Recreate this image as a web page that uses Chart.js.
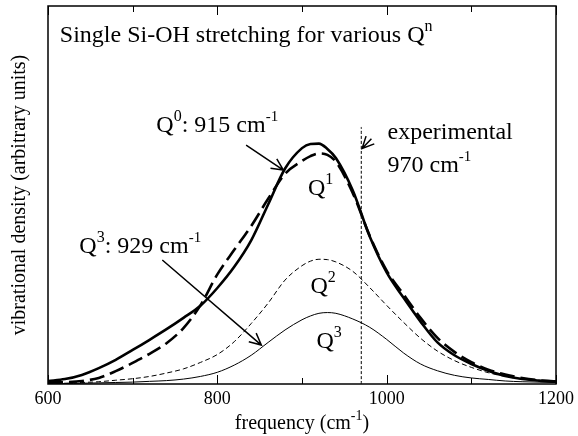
<!DOCTYPE html>
<html>
<head>
<meta charset="utf-8">
<script src="https://cdn.jsdelivr.net/npm/chart.js@4"></script>
<style>
  html, body { margin: 0; padding: 0; background: #fff; }
  #wrap { width: 578px; height: 436px; }
</style>
</head>
<body>
<div id="wrap"><canvas id="chart" width="578" height="436"></canvas></div>
<script>
// Single Si-OH stretching bands
const freqs = [600, 620, 640, 660, 680, 700, 720, 740, 760, 780, 800, 820, 840, 860, 880, 900, 910, 920, 930, 940,
               960, 980, 1000, 1020, 1040, 1060, 1080, 1100, 1120, 1140, 1160, 1180, 1200];
const q0 = [0.008, 0.013, 0.024, 0.042, 0.064, 0.090, 0.117, 0.145, 0.175, 0.207, 0.254, 0.310, 0.380, 0.475, 0.570, 0.624, 0.635, 0.636, 0.622, 0.598,
            0.512, 0.390, 0.295, 0.228, 0.165, 0.110, 0.076, 0.053, 0.035, 0.021, 0.013, 0.009, 0.006];
const q1 = [0.004, 0.005, 0.008, 0.016, 0.034, 0.056, 0.080, 0.108, 0.148, 0.208, 0.290, 0.355, 0.418, 0.490, 0.556, 0.590, 0.603, 0.610, 0.606, 0.588,
            0.505, 0.392, 0.300, 0.237, 0.175, 0.122, 0.085, 0.058, 0.038, 0.025, 0.016, 0.010, 0.007];
const q2 = [0.001, 0.002, 0.004, 0.006, 0.010, 0.014, 0.020, 0.029, 0.040, 0.057, 0.078, 0.112, 0.160, 0.214, 0.275, 0.313, 0.325, 0.330, 0.329, 0.323,
            0.298, 0.255, 0.208, 0.163, 0.121, 0.087, 0.062, 0.044, 0.030, 0.020, 0.013, 0.008, 0.006];
const q3 = [0.001, 0.001, 0.002, 0.003, 0.004, 0.005, 0.007, 0.009, 0.013, 0.020, 0.031, 0.050, 0.076, 0.110, 0.143, 0.170, 0.180, 0.187, 0.189, 0.187,
            0.172, 0.150, 0.118, 0.082, 0.053, 0.035, 0.023, 0.016, 0.012, 0.008, 0.006, 0.005, 0.004];

// experimental band position (dotted marker line)
const expFreq = [970, 970];
const expLevel = [0, 0.68];

const xTicks = [600, 800, 1000, 1200];
const xMinorTicks = [700, 900, 1100];

const SERIF = "'Liberation Serif', 'Times New Roman', serif";

function pts(ys) {
    return freqs.map((f, i) => ({ x: f, y: ys[i] }));
}

// text pieces: [text, size, raise]
function drawRich(ctx, parts, x, y) {
    let cx = x;
    parts.forEach(p => {
        ctx.font = p[1] + 'px ' + SERIF;
        ctx.fillText(p[0], cx, y - p[2]);
        cx += ctx.measureText(p[0]).width;
    });
}

function drawArrow(ctx, x1, y1, x2, y2) {
    const ang = Math.atan2(y2 - y1, x2 - x1);
    const head = 13;
    ctx.beginPath();
    ctx.moveTo(x1, y1);
    ctx.lineTo(x2, y2);
    ctx.moveTo(x2 - head * Math.cos(ang - 0.45), y2 - head * Math.sin(ang - 0.45));
    ctx.lineTo(x2, y2);
    ctx.lineTo(x2 - head * Math.cos(ang + 0.45), y2 - head * Math.sin(ang + 0.45));
    ctx.stroke();
}

// labels in data coordinates (frequency, density)
const labels = [
    { f: 614, v: 0.906, parts: [['Single Si-OH stretching for various Q', 24, 0], ['n', 16, 11]] },
    { f: 728, v: 0.667, parts: [['Q', 24, 0], ['0', 16, 11], [': 915 cm', 24, 0], ['-1', 15, 11]] },
    { f: 1001, v: 0.648, parts: [['experimental', 24, 0]] },
    { f: 1001, v: 0.560, parts: [['970 cm', 24, 0], ['-1', 15, 11]] },
    { f: 907, v: 0.500, parts: [['Q', 24, 0], ['1', 16, 11]] },
    { f: 910, v: 0.241, parts: [['Q', 24, 0], ['2', 16, 11]] },
    { f: 917, v: 0.095, parts: [['Q', 24, 0], ['3', 16, 11]] },
    { f: 637, v: 0.347, parts: [['Q', 24, 0], ['3', 16, 11], [': 929 cm', 24, 0], ['-1', 15, 11]] }
];

const arrows = [
    [834, 0.632, 878, 0.566],
    [982, 0.649, 971, 0.623],
    [735, 0.328, 852, 0.103]
];

const decorPlugin = {
    id: 'decor',
    afterDatasetsDraw(chart) {
        const { ctx, chartArea: a, scales: { x, y } } = chart;
        ctx.save();
        ctx.strokeStyle = '#000';
        ctx.fillStyle = '#000';

        // frame
        ctx.lineWidth = 1.5;
        ctx.strokeRect(a.left, a.top, a.right - a.left, a.bottom - a.top);

        // inward ticks top and bottom
        ctx.lineWidth = 1;
        xTicks.concat(xMinorTicks).forEach(t => {
            const px = Math.round(x.getPixelForValue(t)) + 0.5;
            const len = xTicks.includes(t) ? 9 : 6;
            ctx.beginPath();
            ctx.moveTo(px, a.bottom);
            ctx.lineTo(px, a.bottom - len);
            ctx.moveTo(px, a.top);
            ctx.lineTo(px, a.top + len);
            ctx.stroke();
        });

        // annotations
        ctx.textBaseline = 'alphabetic';
        ctx.textAlign = 'left';
        labels.forEach(l => drawRich(ctx, l.parts, x.getPixelForValue(l.f), y.getPixelForValue(l.v)));

        ctx.lineWidth = 1.5;
        arrows.forEach(r => drawArrow(ctx, x.getPixelForValue(r[0]), y.getPixelForValue(r[1]),
                                      x.getPixelForValue(r[2]), y.getPixelForValue(r[3])));

        // axis titles
        const xt = [['frequency (cm', 20, 0], ['-1', 14, 9], [')', 20, 0]];
        let w = 0;
        xt.forEach(p => { ctx.font = p[1] + 'px ' + SERIF; w += ctx.measureText(p[0]).width; });
        drawRich(ctx, xt, (a.left + a.right) / 2 - w / 2, 429);

        ctx.save();
        ctx.translate(25, (a.top + a.bottom) / 2);
        ctx.rotate(-Math.PI / 2);
        ctx.textAlign = 'center';
        ctx.font = '20px ' + SERIF;
        ctx.fillText('vibrational density (arbitrary units)', 0, 0);
        ctx.restore();

        ctx.restore();
    }
};

new Chart(document.getElementById('chart'), {
    type: 'line',
    data: {
        datasets: [
            { label: 'Q0', data: pts(q0), borderColor: '#000', borderWidth: 2.6 },
            { label: 'Q1', data: pts(q1), borderColor: '#000', borderWidth: 2.6, borderDash: [15, 6] },
            { label: 'Q2', data: pts(q2), borderColor: '#000', borderWidth: 1, borderDash: [5, 3] },
            { label: 'Q3', data: pts(q3), borderColor: '#000', borderWidth: 1 },
            { label: 'experimental', data: expFreq.map((f, i) => ({ x: f, y: expLevel[i] })),
              borderColor: '#000', borderWidth: 1, borderDash: [3, 2] }
        ]
    },
    options: {
        responsive: false,
        animation: false,
        layout: { padding: { left: 48, right: 19, top: 6, bottom: 0 } },
        elements: {
            point: { radius: 0 },
            line: { cubicInterpolationMode: 'monotone', fill: false }
        },
        plugins: {
            legend: { display: false },
            tooltip: { enabled: false }
        },
        scales: {
            x: {
                type: 'linear',
                min: 600,
                max: 1200,
                grid: { display: false, drawTicks: false },
                border: { display: false },
                ticks: {
                    stepSize: 200,
                    color: '#000',
                    padding: 4,
                    font: { family: SERIF, size: 18 },
                    callback: v => String(v)
                },
                afterFit(scale) { scale.height = 52; }
            },
            y: { display: false, min: 0, max: 1 }
        }
    },
    plugins: [decorPlugin]
});
</script>
</body>
</html>
